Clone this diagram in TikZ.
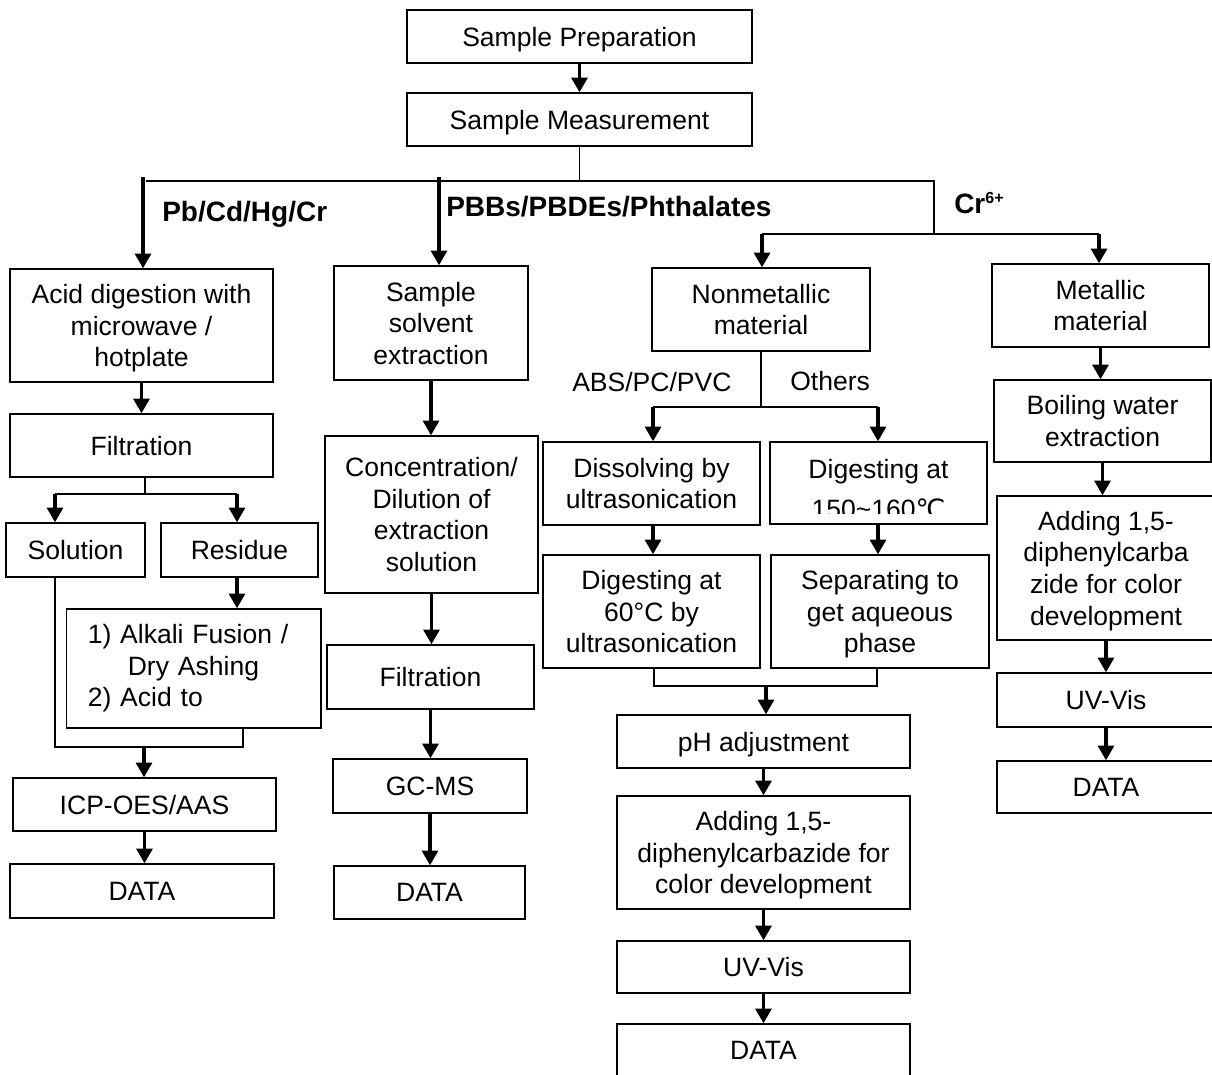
\documentclass[tikz,border=0pt]{standalone}
\usepackage{fontspec}
\setmainfont{Liberation Sans}
\newfontfamily\dejavu{DejaVu Sans}
\usetikzlibrary{arrows.meta}
\tikzset{
  boxbase/.style={draw, line width=1.1pt, inner sep=0pt, align=center, font=\fontsize{19.9pt}{23.7pt}\selectfont},
  box/.style={boxbase, text depth=0pt},
  arr/.style={line width=2.3pt, -{Triangle[length=11pt,width=12pt]}},
  conn/.style={line width=1pt},
  lbl/.style={inner sep=0pt, font=\fontsize{21pt}{25pt}\selectfont\bfseries},
  plain/.style={inner sep=0pt, font=\fontsize{19.9pt}{23.7pt}\selectfont},
}
\newcommand\mkbox[6]{\node[box, minimum width={(#4-#2)*0.75pt}, minimum height={(#5-#3)*0.75pt}] (#1) at ({(#2+#4)/2},{(#3+#5)/2}) {#6};}
\begin{document}
\begin{tikzpicture}[x=0.75pt,y=-0.75pt]
\useasboundingbox (0,0) rectangle (1212,1074);
\fill[white] (0,0) rectangle (1212,1074);
\clip (0,0) rectangle (1212,1074);

% ---- top
\mkbox{prep}{407}{10}{752}{63}{Sample Preparation}
\mkbox{meas}{407}{93}{752}{146}{Sample Measurement}

% ---- column 1
\mkbox{acid}{10}{269}{273}{382}{Acid digestion with\\microwave /\\hotplate}
\mkbox{filtA}{10}{414}{273}{477}{Filtration}
\mkbox{sol}{6}{523}{145}{577}{Solution}
\mkbox{res}{161}{523}{318}{577}{Residue}
\node[boxbase, align=left, inner xsep=16pt, inner ysep=0pt, text width=158.9pt, minimum height={(728-609)*0.75pt}] (alk) at ({(66.5+321)/2},{(609+728)/2}) {1) Alkali Fusion /\\\hspace*{30pt}Dry Ashing\\2) Acid to};
\mkbox{icp}{13}{778}{276}{831}{ICP-OES/AAS}
\mkbox{dataA}{10}{864}{274}{918}{DATA}

% ---- column 2
\mkbox{sse}{334}{266}{528}{380}{Sample\\solvent\\extraction}
\mkbox{conc}{325}{436}{538}{593}{Concentration/\\Dilution of\\extraction\\solution}
\mkbox{filtB}{327}{645}{534}{709}{Filtration}
\mkbox{gc}{333}{759}{527}{813}{GC-MS}
\mkbox{dataB}{334}{866}{525}{919}{DATA}

% ---- column 3
\mkbox{nonmet}{652}{268}{870}{351}{Nonmetallic\\material}
\mkbox{diss}{543}{442}{760}{525}{Dissolving by\\ultrasonication}
\mkbox{dig150}{770}{442}{987}{524}{}
\begin{scope}
\clip (770,442) rectangle (987,513);
\node[plain, align=center, anchor=north] (t150) at (878.5,459) {Digesting at\\[6.3pt]150\textasciitilde160{\dejavu ℃}};
\end{scope}
\mkbox{dig60}{543}{555}{760}{668}{Digesting at\\60°C by\\ultrasonication}
\mkbox{sep}{771}{555}{989}{668}{Separating to\\get aqueous\\phase}
\mkbox{ph}{617}{715}{910}{768}{pH adjustment}
\mkbox{addC}{617}{796}{910}{909}{Adding 1,5-\\diphenylcarbazide for\\color development}
\mkbox{uvC}{617}{941}{910}{993}{UV-Vis}
\mkbox{dataC}{617}{1024}{910}{1077}{DATA}

% ---- column 4
\mkbox{met}{992}{264}{1209}{347}{Metallic\\material}
\mkbox{boil}{994}{380}{1211}{462}{Boiling water\\extraction}
\mkbox{addR}{997}{496}{1215}{640}{Adding 1,5-\\diphenylcarba\\zide for color\\development}
\mkbox{uvR}{997}{673}{1215}{727}{UV-Vis}
\mkbox{dataR}{997}{761}{1215}{813}{DATA}

% ---- labels
\node[lbl, anchor=base west] (lPb) at (162,221) {Pb/Cd/Hg/Cr};
\node[lbl, anchor=base west] (lPBB) at (446,216) {PBBs/PBDEs/Phthalates};
\node[lbl, anchor=base west] (lCr) at (954,213) {Cr\raisebox{7.5pt}{\fontsize{12pt}{12pt}\selectfont\bfseries 6+}};
\node[plain, anchor=base west] (lABS) at (572,391) {ABS/PC/PVC};
\node[plain, anchor=base west] (lOth) at (790,390) {Others};

% ---- connectors: top
\draw[arr] (prep.south) -- (prep.south |- meas.north);
\coordinate (hL) at (146,181);
\coordinate (hR) at (934,181);
\coordinate (crB) at (934,234);
\coordinate (crL) at (762,234);
\coordinate (crR) at (1099,234);
\coordinate (a1) at (143,177);
\coordinate (a2) at (439,177);
\draw[conn] (meas.south) -- (meas.south |- hR);
\draw[conn] (hL) -- (hR) -- (crB);
\draw[conn] (crL) -- (crR);
\draw[arr] (a1) -- (a1 |- acid.north);
\draw[arr] (a2) -- (a2 |- sse.north);
\draw[arr] (crL) -- (crL |- nonmet.north);
\draw[arr] (crR) -- (crR |- met.north);

% ---- column 1 connectors
\draw[arr] (acid.south) -- (acid.south |- filtA.north);
\coordinate (fA) at (145,494);
\coordinate (fAL) at (55,494);
\coordinate (fAR) at (237,494);
\draw[conn] (filtA.south -| fA) -- (fA);
\draw[conn] (fAL) -- (fAR);
\draw[arr] (fAL) -- (fAL |- sol.north);
\draw[arr] (fAR) -- (fAR |- res.north);
\draw[arr] (res.south -| fAR) -- (alk.north -| fAR);
\coordinate (mL) at (55,747);
\coordinate (mR) at (243,747);
\coordinate (mC) at (144,747);
\draw[conn] (sol.south -| mL) -- (mL) -- (mR) -- (alk.south -| mR);
\draw[arr] (mC) -- (mC |- icp.north);
\draw[arr] (icp.south) -- (icp.south |- dataA.north);

% ---- column 2 connectors
\draw[arr] (sse.south) -- (sse.south |- conc.north);
\draw[arr] (conc.south) -- (conc.south |- filtB.north);
\draw[arr] (filtB.south) -- (filtB.south |- gc.north);
\draw[arr] (gc.south) -- (gc.south |- dataB.north);

% ---- column 3 connectors
\coordinate (nL) at (653,407);
\coordinate (nR) at (878,407);
\draw[conn] (nonmet.south) -- (nonmet.south |- nL);
\draw[conn] (nL) -- (nR);
\draw[arr] (nL) -- (nL |- diss.north);
\draw[arr] (nR) -- (nR |- dig150.north);
\draw[arr] (diss.south -| nL) -- (dig60.north -| nL);
\draw[arr] (dig150.south -| nR) -- (sep.north -| nR);
\coordinate (jL) at (654,686);
\coordinate (jR) at (877,686);
\coordinate (jC) at (766,686);
\draw[conn] (dig60.south -| jL) -- (jL) -- (jR) -- (sep.south -| jR);
\draw[arr] (jC) -- (jC |- ph.north);
\draw[arr] (ph.south) -- (ph.south |- addC.north);
\draw[arr] (addC.south) -- (addC.south |- uvC.north);
\draw[arr] (uvC.south) -- (uvC.south |- dataC.north);

% ---- column 4 connectors
\draw[arr] (met.south) -- (met.south |- boil.north);
\draw[arr] (boil.south) -- (boil.south |- addR.north);
\draw[arr] (addR.south) -- (addR.south |- uvR.north);
\draw[arr] (uvR.south) -- (uvR.south |- dataR.north);
\end{tikzpicture}
\end{document}
